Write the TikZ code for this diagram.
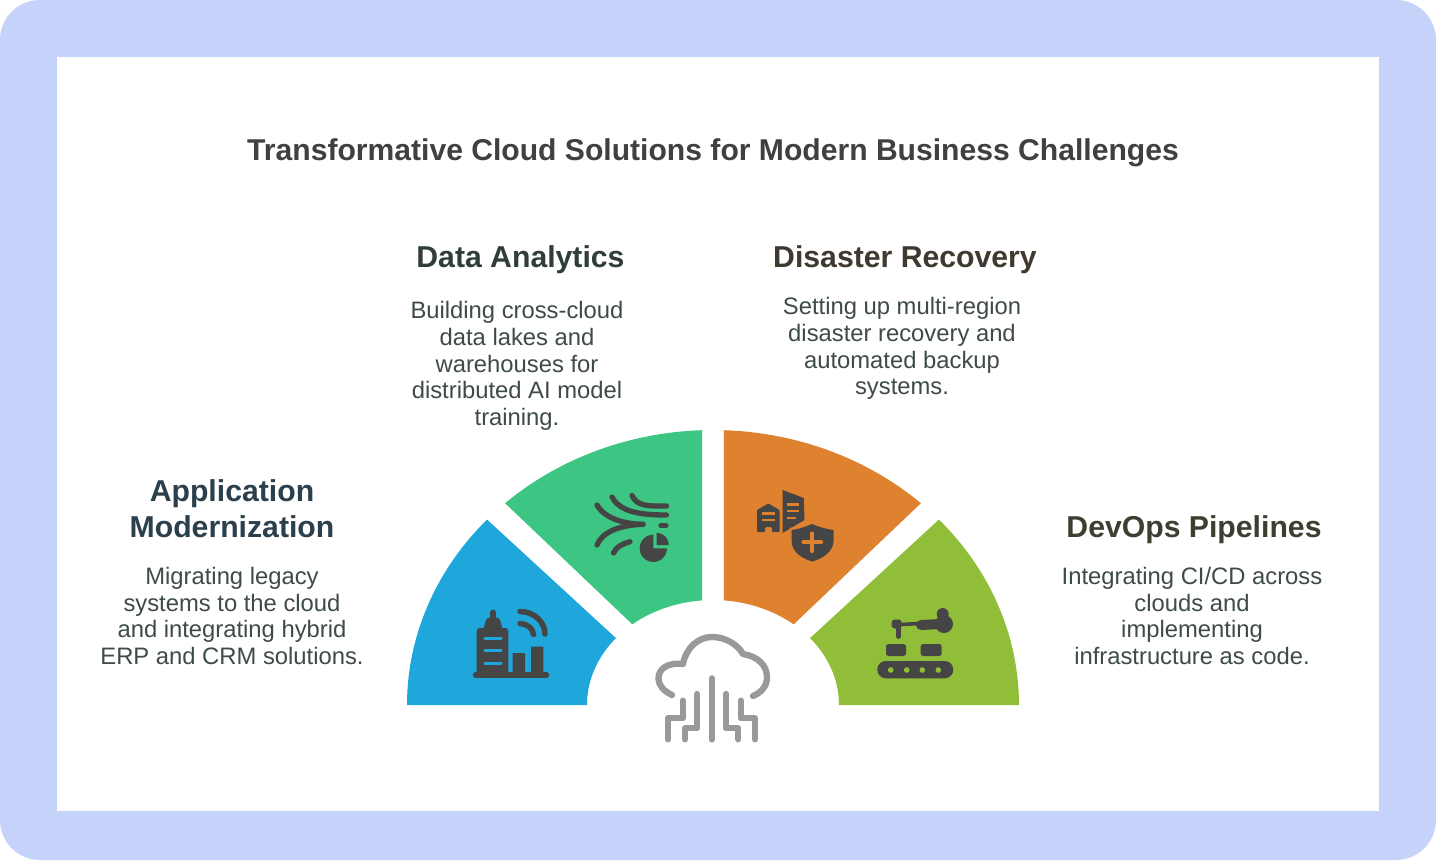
\documentclass[tikz,border=0pt]{standalone}
\usepackage{fontspec}
\setmainfont{Liberation Sans}
\definecolor{frameblue}{HTML}{C5D2FA}
\definecolor{secblue}{HTML}{1FA6DB}
\definecolor{secgreen}{HTML}{3DC583}
\definecolor{secorange}{HTML}{DF8230}
\definecolor{seclime}{HTML}{90BE38}
\definecolor{icondark}{HTML}{454545}
\definecolor{icongray}{HTML}{999999}
\definecolor{titlecol}{HTML}{404040}
\definecolor{headteal}{HTML}{2F3E3B}
\definecolor{headbrown}{HTML}{40392F}
\definecolor{headblue}{HTML}{2B3F4C}
\definecolor{headolive}{HTML}{3B4030}
\definecolor{bodycol}{HTML}{3F4A4A}
\newcommand{\sectorshape}[5]{\fill[#1] plot[domain=#2:#3,samples=40] ({713+306*cos(\x)},{705-275*sin(\x)}) -- plot[domain=#4:#5,samples=30] ({713+126*cos(\x)},{705-105*sin(\x)}) -- cycle;}
\tikzset{
  titletext/.style={font=\fontsize{30.1}{35}\selectfont\bfseries,text=titlecol,inner sep=0pt},
  headtext/.style={font=\fontsize{30.2}{36}\selectfont\bfseries,align=center,inner sep=0pt},
  bodytext/.style={font=\fontsize{23.8}{26.7}\selectfont,text=bodycol,align=center,inner sep=0pt},
  ic/.style={line cap=round,line join=round,draw=icondark},
  cloudline/.style={draw=icongray,line width=6.3pt,line cap=round,line join=round}
}
\begin{document}
\begin{tikzpicture}[x=1pt,y=-1pt]
\useasboundingbox (0,0) rectangle (1436,860);
\fill[frameblue,rounded corners=40pt] (0,0) rectangle (1436,860);
\fill[white] (57,57) rectangle (1379,811);

\sectorshape{secblue}{180}{137.6}{140.4}{180}
\sectorshape{secgreen}{132.8}{92.06}{95}{129.8}
\sectorshape{secorange}{87.94}{47.2}{50.2}{85}
\sectorshape{seclime}{42.4}{0}{0}{39.6}

\node[titletext] (title) at (713,152.5) {Transformative Cloud Solutions for Modern Business Challenges};
\node[headtext,text=headteal] (dahead) at (520.5,259.5) {Data Analytics};
\node[headtext,text=headbrown] (drhead) at (905,259.5) {Disaster Recovery};
\node[headtext,text=headblue] (amhead) at (232,509) {Application\\Modernization};
\node[headtext,text=headolive] (dohead) at (1194,529.5) {DevOps Pipelines};
\node[bodytext] (dabody) at (517,366) {Building cross-cloud\\data lakes and\\warehouses for\\distributed AI model\\training.};
\node[bodytext] (drbody) at (902,348.5) {Setting up multi-region\\disaster recovery and\\automated backup\\systems.};
\node[bodytext] (ambody) at (232,616) {Migrating legacy\\systems to the cloud\\and integrating hybrid\\ERP and CRM solutions.};
\node[bodytext] (dobody) at (1192,616) {Integrating CI/CD across\\clouds and\\implementing\\infrastructure as code.};

% building icon
\draw[ic,line width=5.5pt] (475.5,675) -- (546.5,675);
\fill[icondark,rounded corners=3pt] (476.7,675) -- (476.7,628) -- (508.3,628) -- (508.3,675) -- cycle;
\draw[ic,line width=6pt] (493.3,612.5) -- (493.3,620);
\fill[icondark,rounded corners=2.5pt] (484,626) -- (487,617.5) -- (499,617.5) -- (502,626) -- (502,630) -- (484,630) -- cycle;
\draw[secblue,line width=3.4pt,line cap=round] (485,638.3) -- (501,638.3) (485,650.7) -- (501,650.7) (485,663.3) -- (501,663.3);
\fill[icondark] (512.7,653) rectangle (525,675) (531,646.7) rectangle (543.3,675);
\draw[ic,line width=5.5pt] (520,611.5) .. controls (534,611.5) and (545,622) .. (545,634);
\draw[ic,line width=5.5pt] (520,623.5) .. controls (527,624) and (533,628) .. (533.5,634.5);

% data icon
\draw[ic,line width=5.3pt] (632,495.5) .. controls (637,507) and (650,506) .. (666.5,506);
\draw[ic,line width=5.3pt] (612,497) .. controls (620,512) and (640,515) .. (666.5,515);
\draw[ic,line width=5.3pt] (597,505) .. controls (605,519) and (625,524) .. (643,524.3);
\draw[ic,line width=5.3pt] (643,524.3) .. controls (620,525) and (602,532) .. (597,545);
\draw[ic,line width=5.3pt] (613.5,553) .. controls (616,547) and (622,544) .. (630,541.7);
\draw[ic,line width=5.3pt] (661,525.7) -- (666,525.7);
\fill[icondark] (653.3,548.3) -- plot[domain=90:360,samples=40] ({653.3+13.6*cos(\x)},{548.3-13.6*sin(\x)}) -- cycle;
\fill[icondark] (656.7,545) -- plot[domain=0:90,samples=20] ({656.7+12*cos(\x)},{545-12*sin(\x)}) -- cycle;

% disaster recovery icon
\fill[icondark,rounded corners=1pt] (757,532) -- (757,510) -- (768.3,503.5) -- (779.5,510) -- (779.5,532) -- (772,532) -- (772,527) -- (765,527) -- (765,532) -- cycle;
\draw[secorange,line width=2.4pt] (761.7,513.3) -- (775,513.3) (761.7,520) -- (775,520);
\fill[icondark] (782.7,490) -- (803.8,498) -- (804.5,520) -- (782.7,533) -- cycle;
\draw[secorange,line width=2.4pt] (787.3,504.3) -- (799.3,504.3) (787.3,511) -- (799.3,511) (787.3,517.7) -- (796,517.7);
\path[fill=icondark,preaction={draw=secorange,line width=5pt,line join=round}] (791.7,530) .. controls (799,529) and (805,527) .. (812,524) .. controls (819,527) and (826,529) .. (833.5,530) -- (833.5,541) .. controls (833.5,551) and (824,558) .. (812.3,561.5) .. controls (800,558) and (791.7,551) .. (791.7,541) -- cycle;
\draw[secorange,line width=4.2pt,line cap=round] (803.5,542.3) -- (821,542.3) (812.3,533.5) -- (812.3,551);

% robot and conveyor icon
\fill[icondark,rounded corners=8.6pt] (877.3,661) rectangle (953.3,678.3);
\foreach \dotx in {890.7,906.7,922.3,938.3}{\fill[seclime] (\dotx,670) circle[radius=2.8pt];}
\fill[icondark,rounded corners=2.5pt] (886,644) rectangle (906,656) (920.7,644) rectangle (941.7,656);
\fill[icondark,rounded corners=3pt] (891.7,619.5) rectangle (901.7,628.5);
\draw[ic,line width=4.8pt] (898.3,628) -- (898.3,636.5);
\draw[ic,line width=3.6pt] (901,624.5) -- (920,623.5);
\draw[ic,line width=10pt] (921,625) -- (940,624);
\fill[icondark] (944,624) circle[radius=9pt] (942.7,614) circle[radius=6pt];

% cloud icon
\draw[cloudline] (672,695) .. controls (664,691) and (658.5,686) .. (658.5,678) .. controls (658.5,669) and (668,662) .. (683,664) .. controls (686,648) and (698,637) .. (712,637) .. controls (726,637) and (738,645) .. (743,654) .. controls (757,656) and (767,665) .. (767,677) .. controls (767,686) and (762,692) .. (753,696);
\draw[cloudline] (711.7,678.3) -- (711.7,739.5);
\draw[cloudline] (697.3,694) -- (697.3,728.3) -- (685,728.3) -- (685,739.3);
\draw[cloudline] (682.7,700.7) -- (682.7,718.3) -- (668.3,718.3) -- (668.3,739.3);
\draw[cloudline] (726,694) -- (726,728.3) -- (738.3,728.3) -- (738.3,739.3);
\draw[cloudline] (740.7,700.7) -- (740.7,718.3) -- (755,718.3) -- (755,739.3);
\end{tikzpicture}
\end{document}
